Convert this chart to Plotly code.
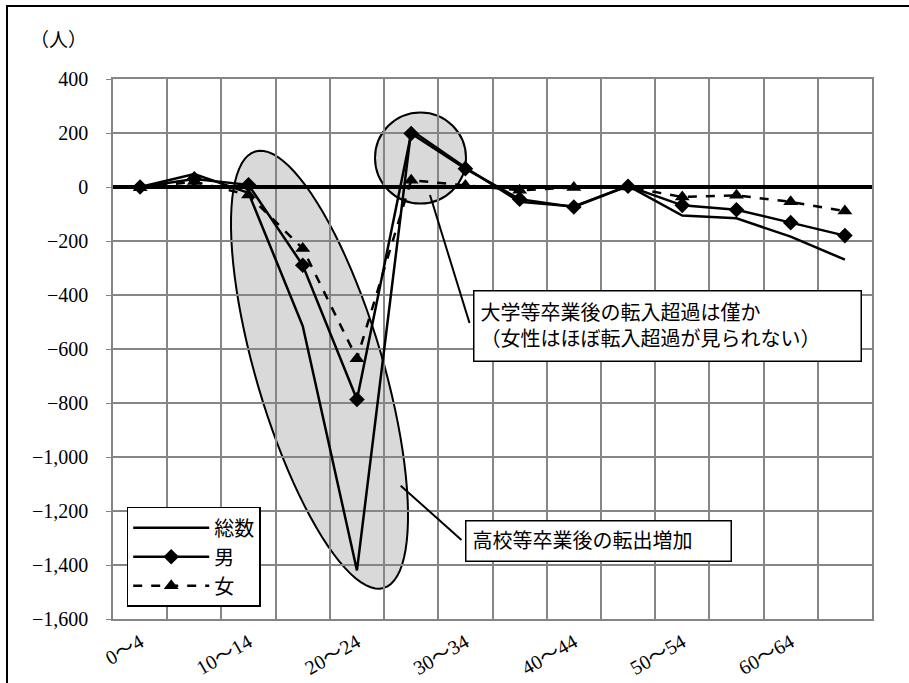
import numpy as np
import plotly.graph_objects as go

# ---- data ----
categories = ["0～4", "5～9", "10～14", "15～19", "20～24", "25～29", "30～34",
              "35～39", "40～44", "45～49", "50～54", "55～59", "60～64", "65～69"]
total = [0, 48, -22, -515, -1420, 210, 72, -55, -72, 4, -106, -116, -184, -269]
male = [0, 30, 8, -290, -787, 198, 68, -45, -74, 3, -68, -84, -132, -180]
female = [-3, 20, -30, -228, -636, 25, 6, -12, -2, 0, -37, -31, -55, -89]
tick_labels = categories[::2]
y_ticks = [400, 200, 0, -200, -400, -600, -800, -1000, -1200, -1400, -1600]

FONT = "Liberation Serif, Times New Roman, DejaVu Serif, Noto Sans CJK JP, serif"
GRID = "#858585"

# ---- layout geometry (pixels) ----
WID, HEI = 909, 683
L, T, R, B = 113, 79, 37, 64
PW, PH = WID - L - R, HEI - T - B
XMIN, XMAX = -0.5, len(categories) - 0.5
YMIN, YMAX = -1600, 400


def px_x(px):
    return XMIN + (px - L) / PW * (XMAX - XMIN)


def px_y(py):
    return YMAX - (py - T) / PH * (YMAX - YMIN)


def pap_x(px):
    return (px - L) / PW


def pap_y(py):
    return (T + PH - py) / PH


xs = list(range(len(categories)))

fig = go.Figure()
fig.add_trace(go.Scatter(x=xs, y=total, name="総数", mode="lines",
                         line=dict(color="black", width=2.5)))
fig.add_trace(go.Scatter(x=xs, y=male, name="男", mode="lines+markers",
                         line=dict(color="black", width=2.5),
                         marker=dict(symbol="diamond", size=12, color="black")))
fig.add_trace(go.Scatter(x=xs, y=female, name="女", mode="lines+markers",
                         line=dict(color="black", width=2.5, dash="dash"),
                         marker=dict(symbol="triangle-up", size=13, color="black")))

shapes = []
# tilted ellipse (pixel space -> data)
cx, cy, a, b, th = 319.5, 369.7, 227.5, 63.5, np.deg2rad(16.4)
u = (np.sin(th), np.cos(th))
v = (np.cos(th), -np.sin(th))
pts = []
for t in np.linspace(0, 2 * np.pi, 97)[:-1]:
    px = cx + a * np.cos(t) * u[0] + b * np.sin(t) * v[0]
    py = cy + a * np.cos(t) * u[1] + b * np.sin(t) * v[1]
    pts.append(f"{px_x(px):.4f},{px_y(py):.3f}")
shapes.append(dict(type="path", path="M" + " L".join(pts) + " Z", xref="x", yref="y",
                   fillcolor="#d9d9d9", line=dict(color="black", width=2), layer="below"))
# circle
ccx, ccy, rr = 420.5, 158, 45.5
shapes.append(dict(type="circle", xref="x", yref="y",
                   x0=px_x(ccx - rr), x1=px_x(ccx + rr), y0=px_y(ccy + rr), y1=px_y(ccy - rr),
                   fillcolor="#d9d9d9", line=dict(color="black", width=2), layer="below"))
# callout lines
shapes.append(dict(type="line", xref="x", yref="y", x0=px_x(430), y0=px_y(195),
                   x1=px_x(469.5), y1=px_y(323), line=dict(color="black", width=2)))
shapes.append(dict(type="line", xref="x", yref="y", x0=px_x(400.7), y0=px_y(485.7),
                   x1=px_x(461.5), y1=px_y(540), line=dict(color="black", width=2)))
# outer chart frame (top & left visible)
shapes.append(dict(type="path", xref="paper", yref="paper",
                   path=f"M{pap_x(7)},{pap_y(700)} L{pap_x(7)},{pap_y(6)} L{pap_x(920)},{pap_y(6)}",
                   line=dict(color="black", width=2)))

annotations = [
    dict(text="（人）", xref="paper", yref="paper", x=pap_x(58), y=pap_y(40),
         xanchor="center", yanchor="middle",
         showarrow=False, font=dict(family=FONT, size=19, color="black")),
    dict(text="大学等卒業後の転入超過は僅か<br>（女性はほぼ転入超過が見られない）",
         xref="paper", yref="paper", x=pap_x(473), y=pap_y(290),
         xanchor="left", yanchor="top", align="left", showarrow=False,
         width=374, height=57, borderpad=6, bordercolor="black", borderwidth=1.5,
         bgcolor="white", font=dict(family=FONT, size=20, color="black")),
    dict(text="高校等卒業後の転出増加",
         xref="paper", yref="paper", x=pap_x(465), y=pap_y(520),
         xanchor="left", yanchor="top", align="left", showarrow=False,
         width=252, height=27, borderpad=6, bordercolor="black", borderwidth=1.5,
         bgcolor="white", font=dict(family=FONT, size=20, color="black")),
]

fig.update_layout(
    width=WID, height=HEI,
    margin=dict(l=L, r=R, t=T, b=B, autoexpand=False),
    paper_bgcolor="white", plot_bgcolor="white",
    font=dict(family=FONT, size=20, color="black"),
    showlegend=True,
    legend=dict(x=pap_x(126.7), y=pap_y(506.7), xanchor="left", yanchor="top",
                bordercolor="black", borderwidth=1.5, bgcolor="white",
                font=dict(family=FONT, size=20, color="black"),
                itemwidth=76, tracegroupgap=0),
    shapes=shapes,
    annotations=annotations,
    xaxis=dict(range=[XMIN, XMAX], tickmode="array", tickvals=xs[::2], ticktext=tick_labels,
               tickangle=-30, showgrid=False, zeroline=False, ticks="",
               showline=True, linecolor=GRID, linewidth=1.5, mirror=True,
               minor=dict(tickmode="array", tickvals=[i - 0.5 for i in range(len(categories) + 1)],
                          showgrid=True, gridcolor=GRID, gridwidth=1.5, ticks=""),
               tickfont=dict(family=FONT, size=20, color="black"), ticklabelstandoff=2),
    yaxis=dict(range=[YMIN, YMAX], tickmode="array", tickvals=y_ticks, tickformat=",",
               showgrid=True, gridcolor=GRID, gridwidth=1.5,
               zeroline=True, zerolinecolor="black", zerolinewidth=4,
               showline=True, linecolor=GRID, linewidth=1.5, mirror=True,
               ticks="outside", ticklen=5, tickcolor=GRID,
               tickfont=dict(family=FONT, size=20, color="black"), ticklabelstandoff=14),
)

fig.write_html("out.html", post_script="document.body.style.margin='0px';",
               config={"displayModeBar": False})
